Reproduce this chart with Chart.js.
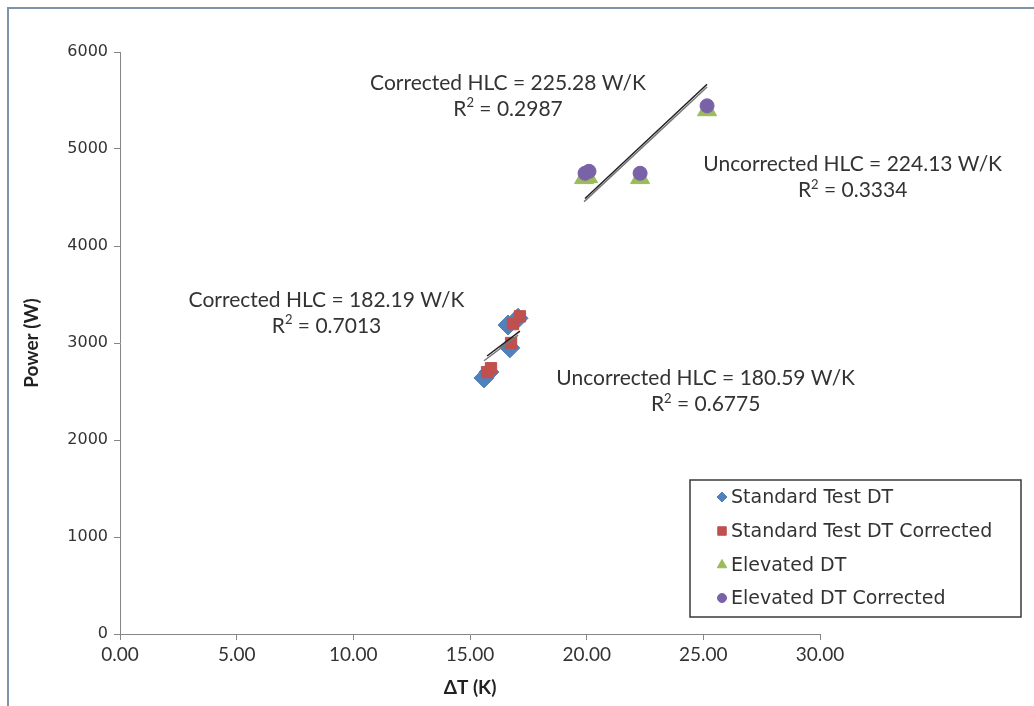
<!DOCTYPE html>
<html>
<head>
<meta charset="utf-8">
<script src="https://cdn.jsdelivr.net/npm/chart.js@4"></script>
<style>
  html, body { margin: 0; padding: 0; background: #fff; }
  #wrap { width: 1034px; height: 706px; position: relative; }
</style>
</head>
<body>
<div id="wrap"><canvas id="hlcChart" width="1034" height="706"></canvas></div>
<script>
// values
const stdX      = [15.60, 15.81, 16.71, 16.63, 17.06];
const stdY      = [2640, 2700, 2950, 3185, 3255];
const stdCorrX  = [15.73, 15.90, 16.76, 16.84, 17.14];
const stdCorrY  = [2700, 2740, 3000, 3195, 3275];
const elevX     = [19.89, 20.06, 22.29, 25.16];
const elevY     = [4700, 4710, 4700, 5400];
const elevCorrX = [19.93, 20.10, 22.29, 25.16];
const elevCorrY = [4750, 4770, 4750, 5445];

const seriesNames = ['Standard Test DT', 'Standard Test DT Corrected', 'Elevated DT', 'Elevated DT Corrected'];
// trendlines through origin (slope = HLC)
const hlcSlopes = [180.59, 182.19, 224.13, 225.28];
const r2Values  = ['0.6775', '0.7013', '0.3334', '0.2987'];
const xTicks = [0, 5, 10, 15, 20, 25, 30];

const toPts = (xs, ys) => xs.map((x, i) => ({ x: x, y: ys[i] }));
const trend = (xs, k) => {
  const lo = Math.min(...xs), hi = Math.max(...xs);
  return [{ x: lo, y: k * lo }, { x: hi, y: k * hi }];
};

const annotations = [
  { x: 16.63, y: 5680, hlc: hlcSlopes[3], r2: r2Values[3], pre: 'Corrected' },
  { x: 31.4,  y: 4842, hlc: hlcSlopes[2], r2: r2Values[2], pre: 'Uncorrected' },
  { x: 8.85,  y: 3445, hlc: hlcSlopes[1], r2: r2Values[1], pre: 'Corrected' },
  { x: 25.1,  y: 2635, hlc: hlcSlopes[0], r2: r2Values[0], pre: 'Uncorrected' }
];

const FONT_ANN = '21px Lato';
const FONT_SUP = '13px Lato';

const frame = {
  id: 'frame',
  beforeDraw(chart) {
    const c = chart.ctx;
    c.save();
    c.fillStyle = '#fff';
    c.fillRect(0, 0, chart.width, chart.height);
    c.strokeStyle = '#7d93a8';
    c.lineWidth = 2;
    c.beginPath();
    c.moveTo(8, chart.height);
    c.lineTo(8, 8);
    c.lineTo(chart.width, 8);
    c.stroke();
    c.restore();
  },
  afterDraw(chart) {
    const c = chart.ctx, xs = chart.scales.x, ys = chart.scales.y;
    c.save();
    // trendline labels
    c.fillStyle = '#333';
    c.textBaseline = 'middle';
    annotations.forEach(a => {
      const px = xs.getPixelForValue(a.x), py = ys.getPixelForValue(a.y);
      c.font = FONT_ANN;
      c.textAlign = 'center';
      c.fillText(a.pre + ' HLC = ' + a.hlc.toFixed(2) + ' W/K', px, py);
      // R² line with a superscript 2
      const base = 'R', sup = '2', rest = ' = ' + a.r2;
      const wb = c.measureText(base).width, wr = c.measureText(rest).width;
      c.font = FONT_SUP;
      const ws = c.measureText(sup).width;
      const x0 = px - (wb + ws + wr) / 2, y2 = py + 26;
      c.textAlign = 'left';
      c.font = FONT_ANN;
      c.fillText(base, x0, y2);
      c.font = FONT_SUP;
      c.fillText(sup, x0 + wb, y2 - 6);
      c.font = FONT_ANN;
      c.fillText(rest, x0 + wb + ws, y2);
    });
    // axis titles
    c.textAlign = 'center';
    c.font = 'bold 19px Lato';
    c.fillStyle = '#222';
    c.fillText('\u0394T (K)', 470, 688);
    c.translate(32, 343);
    c.rotate(-Math.PI / 2);
    c.fillText('Power (W)', 0, 0);
    c.restore();

    // legend box
    c.save();
    const L = 690, T = 480, R = 1021, B = 617;
    c.strokeStyle = '#3a3a3a';
    c.lineWidth = 1.5;
    c.strokeRect(L, T, R - L, B - T);
    const rowsY = [497, 531, 565, 598];
    const legendRadius = [5, 6, 5.5, 4.5];
    chart.data.datasets.slice(0, 4).forEach((ds, i) => {
      c.fillStyle = ds.backgroundColor;
      c.strokeStyle = ds.borderColor;
      c.lineWidth = 1;
      Chart.helpers.drawPoint(c, { pointStyle: ds.pointStyle, radius: legendRadius[i], rotation: 0, borderWidth: 1 }, 722, rowsY[i]);
      c.fillStyle = '#333';
      c.font = '19px "DejaVu Sans"';
      c.textAlign = 'left';
      c.textBaseline = 'middle';
      c.fillText(ds.label, 731, rowsY[i] + 1);
    });
    c.restore();
  }
};

new Chart(document.getElementById('hlcChart').getContext('2d'), {
  type: 'scatter',
  data: {
    datasets: [
      { label: seriesNames[0], data: toPts(stdX, stdY), pointStyle: 'rectRot', pointRadius: 10, backgroundColor: '#4f81bd', borderColor: '#4f81bd', order: 4 },
      { label: seriesNames[1], data: toPts(stdCorrX, stdCorrY), pointStyle: 'rect', pointRadius: 8, backgroundColor: '#c0504d', borderColor: '#c0504d', order: 3 },
      { label: seriesNames[2], data: toPts(elevX, elevY), pointStyle: 'triangle', pointRadius: 11, backgroundColor: '#9bbb59', borderColor: '#9bbb59', order: 2 },
      { label: seriesNames[3], data: toPts(elevCorrX, elevCorrY), pointStyle: 'circle', pointRadius: 7, backgroundColor: '#7a62a8', borderColor: '#7a62a8', order: 1 },
      { type: 'line', data: trend(stdX, hlcSlopes[0]), borderColor: '#777', borderWidth: 1.5, pointRadius: 0, order: 0 },
      { type: 'line', data: trend(stdCorrX, hlcSlopes[1]), borderColor: '#1e1e1e', borderWidth: 1.5, pointRadius: 0, order: 0 },
      { type: 'line', data: trend(elevX, hlcSlopes[2]), borderColor: '#777', borderWidth: 1.5, pointRadius: 0, order: 0 },
      { type: 'line', data: trend(elevCorrX, hlcSlopes[3]), borderColor: '#1e1e1e', borderWidth: 1.5, pointRadius: 0, order: 0 }
    ]
  },
  options: {
    responsive: false,
    animation: false,
    layout: { padding: { left: 0, top: 52, right: 214, bottom: 0 } },
    plugins: { legend: { display: false }, tooltip: { enabled: false } },
    scales: {
      x: {
        type: 'linear', min: 0, max: 30,
        afterBuildTicks: s => { s.ticks = xTicks.map(v => ({ value: v })); },
        afterFit: s => { s.height = 72; },
        border: { color: '#868686', width: 1 },
        grid: { drawOnChartArea: false, drawTicks: true, tickLength: 6, color: '#868686' },
        ticks: { color: '#333', font: { family: 'Lato', size: 19 }, padding: 3, maxRotation: 0, callback: v => v.toFixed(2) }
      },
      y: {
        type: 'linear', min: 0, max: 6000,
        afterFit: s => { s.width = 120; },
        border: { color: '#868686', width: 1 },
        grid: { drawOnChartArea: false, drawTicks: true, tickLength: 6, color: '#868686' },
        ticks: { stepSize: 1000, color: '#333', font: { family: 'DejaVu Sans', size: 16 }, padding: 6, callback: v => String(v) }
      }
    }
  },
  plugins: [frame]
});
</script>
</body>
</html>
